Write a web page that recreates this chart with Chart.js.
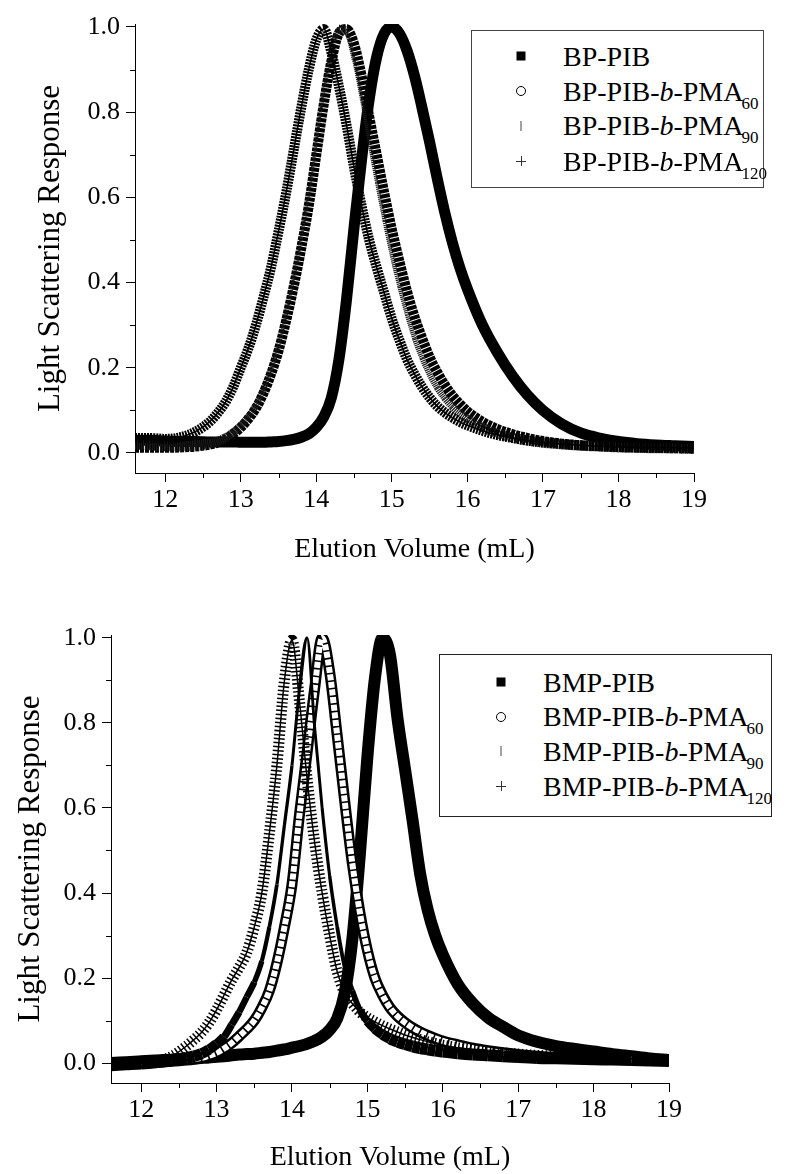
<!DOCTYPE html>
<html>
<head>
<meta charset="utf-8">
<script src="https://cdn.jsdelivr.net/npm/chart.js@4.4.0/dist/chart.umd.min.js"></script>
<style>
html,body{margin:0;padding:0;background:#fff;}
#wrap{position:relative;width:789px;height:1174px;overflow:hidden;font-family:"Liberation Serif","Times New Roman",serif;color:#000;}
#wrap canvas{position:absolute;left:0;}
.legend{position:absolute;box-sizing:border-box;background:#fff;}
.row{position:absolute;height:35px;line-height:35px;white-space:nowrap;font-size:28px;}
.row sub{font-size:17px;position:relative;top:8px;vertical-align:baseline;line-height:0;margin-left:-2px;}
.mk{position:absolute;width:14px;height:14px;}
</style>
</head>
<body>
<div id="wrap">
  <canvas id="chartTop" width="789" height="587" style="top:0;width:789px;height:587px"></canvas>
  <canvas id="chartBottom" width="789" height="587" style="top:587px;width:789px;height:587px"></canvas>
  <div class="legend" id="legendTop" style="left:471px;top:30px;width:293px;height:158px;border:1px solid #444;"></div>
  <div class="legend" id="legendBottom" style="left:439px;top:654px;width:333px;height:163px;border:1px solid #222;"></div>
</div>
<script>
// ---------- data ----------
const elutionVolume = [11.6,11.8,12.0,12.2,12.4, 12.6,12.7,12.8,12.9,13.0, 13.1,13.2,13.3,13.4,13.5, 13.6,13.7,13.8,13.9,14.0,
  14.1,14.2,14.3,14.4,14.5, 14.6,14.7,14.8,14.9,15.0, 15.1,15.2,15.3,15.4,15.5, 15.6,15.7,15.8,15.9,16.0,
  16.2,16.4,16.6,16.8,17.0, 17.25,17.5,17.75,18.0,18.25, 18.5,18.75,19.0];

// top panel (BP initiator)
const bpPIB = [0.030,0.030,0.028,0.027,0.027, 0.026,0.026,0.026,0.026,0.025, 0.025,0.025,0.025,0.026,0.027, 0.029,0.032,0.037,0.045,0.060,
  0.085,0.130,0.220,0.360,0.530, 0.690,0.830,0.930,0.985,1.000, 0.985,0.945,0.885,0.810,0.730, 0.645,0.565,0.495,0.435,0.385,
  0.300,0.235,0.180,0.135,0.100, 0.068,0.047,0.035,0.027,0.022, 0.019,0.017,0.015];
const bpPMA60 = [0.012,0.012,0.012,0.013,0.015, 0.020,0.025,0.033,0.045,0.060, 0.080,0.105,0.140,0.185,0.240, 0.310,0.390,0.480,0.580,0.700,
  0.820,0.920,0.985,0.995,0.960, 0.885,0.790,0.700,0.610,0.525, 0.450,0.380,0.320,0.270,0.225, 0.190,0.160,0.135,0.115,0.098,
  0.073,0.056,0.044,0.035,0.028, 0.022,0.018,0.016,0.014,0.013, 0.012,0.011,0.010];
const bpPMA90 = [0.020,0.018,0.016,0.016,0.018, 0.023,0.028,0.036,0.048,0.064, 0.085,0.112,0.148,0.195,0.253, 0.325,0.410,0.505,0.610,0.730,
  0.850,0.945,0.995,0.985,0.920, 0.830,0.730,0.635,0.545,0.462, 0.390,0.325,0.268,0.222,0.184, 0.153,0.129,0.109,0.093,0.080,
  0.060,0.046,0.036,0.029,0.024, 0.020,0.017,0.015,0.013,0.012, 0.011,0.011,0.010];
const bpPMA120 = [0.035,0.035,0.033,0.037,0.050, 0.075,0.095,0.120,0.155,0.200, 0.245,0.300,0.365,0.435,0.520, 0.610,0.710,0.810,0.900,0.970,
  0.995,0.940,0.860,0.770,0.670, 0.580,0.500,0.435,0.375,0.315, 0.265,0.220,0.185,0.155,0.130, 0.110,0.095,0.083,0.073,0.065,
  0.052,0.042,0.035,0.029,0.025, 0.021,0.018,0.016,0.014,0.013, 0.012,0.012,0.011];

// bottom panel (BMP initiator)
const bmpPIB = [0.000,0.002,0.004,0.006,0.008, 0.010,0.011,0.012,0.013,0.015, 0.016,0.018,0.020,0.021,0.022, 0.024,0.026,0.029,0.032,0.036,
  0.040,0.045,0.052,0.062,0.078, 0.105,0.165,0.290,0.490,0.720, 0.905,1.000,0.960,0.810,0.690, 0.570,0.445,0.360,0.300,0.255,
  0.185,0.140,0.107,0.085,0.065, 0.050,0.040,0.033,0.027,0.021, 0.016,0.011,0.007];
const bmpPMA60 = [-0.002,-0.001,0.000,0.002,0.004, 0.007,0.009,0.012,0.017,0.024, 0.034,0.047,0.063,0.080,0.100, 0.130,0.170,0.235,0.320,0.420,
  0.585,0.730,0.880,1.000,0.920, 0.770,0.615,0.470,0.355,0.265, 0.200,0.160,0.130,0.110,0.095, 0.083,0.073,0.065,0.058,0.052,
  0.043,0.035,0.029,0.024,0.020, 0.016,0.013,0.011,0.010,0.009, 0.008,0.007,0.006];
const bmpPMA90 = [-0.005,-0.003,-0.001,0.002,0.006, 0.012,0.016,0.022,0.032,0.045, 0.062,0.090,0.120,0.155,0.190, 0.240,0.320,0.420,0.560,0.700,
  0.880,1.000,0.790,0.600,0.440, 0.320,0.225,0.170,0.125,0.098, 0.080,0.067,0.057,0.050,0.044, 0.039,0.035,0.032,0.029,0.027,
  0.023,0.020,0.018,0.016,0.014, 0.012,0.011,0.010,0.009,0.008, 0.007,0.006,0.005];
const bmpPMA120 = [-0.004,-0.002,0.000,0.004,0.015, 0.040,0.055,0.072,0.095,0.125, 0.160,0.195,0.225,0.260,0.320, 0.400,0.540,0.700,0.900,0.995,
  0.850,0.670,0.520,0.400,0.300, 0.215,0.165,0.140,0.120,0.107, 0.097,0.088,0.080,0.073,0.066, 0.060,0.055,0.050,0.046,0.042,
  0.036,0.031,0.027,0.024,0.021, 0.018,0.016,0.014,0.012,0.011, 0.010,0.009,0.008];

const topNames = ['BP-PIB', 'BP-PIB-<i>b</i>-PMA<sub>60</sub>', 'BP-PIB-<i>b</i>-PMA<sub>90</sub>', 'BP-PIB-<i>b</i>-PMA<sub>120</sub>'];
const bottomNames = ['BMP-PIB', 'BMP-PIB-<i>b</i>-PMA<sub>60</sub>', 'BMP-PIB-<i>b</i>-PMA<sub>90</sub>', 'BMP-PIB-<i>b</i>-PMA<sub>120</sub>'];
const markerKinds = ['square', 'circle', 'vbar', 'plus'];

const xMajorTicks = [12, 13, 14, 15, 16, 17, 18, 19];
const xMinorTicks = [12.5, 13.5, 14.5, 15.5, 16.5, 17.5, 18.5];
const yMajorTicks = [0.0, 0.2, 0.4, 0.6, 0.8, 1.0];
const yMinorTicks = [0.1, 0.3, 0.5, 0.7, 0.9];
const xTitle = 'Elution Volume (mL)';
const yTitle = 'Light Scattering Response';

// ---------- helpers ----------
const pts = ys => elutionVolume.map((x, i) => ({x: x, y: ys[i]}));
const FONT = 'Liberation Serif';

// width of a band painted by a vertical-dash marker: thick where the curve is flat, thin where steep
const vbarWidth = (h, base) => c => {
  const dx = c.p1.x - c.p0.x, dy = c.p1.y - c.p0.y;
  const len = Math.hypot(dx, dy) || 1;
  return base + h * Math.abs(dx) / len;
};

const minorTickPlugin = {
  id: 'minorTicks',
  afterDraw(chart) {
    const {ctx} = chart; const x = chart.scales.x, y = chart.scales.y;
    ctx.save(); ctx.strokeStyle = '#000'; ctx.lineWidth = 1; ctx.beginPath();
    xMinorTicks.forEach(v => { const p = Math.round(x.getPixelForValue(v)) + 0.5; ctx.moveTo(p, x.top); ctx.lineTo(p, x.top + 5); });
    yMinorTicks.forEach(v => { const p = Math.round(y.getPixelForValue(v)) + 0.5; ctx.moveTo(y.right - 5, p); ctx.lineTo(y.right, p); });
    ctx.stroke(); ctx.restore();
  }
};

function makeChart(id, datasets, L) {
  return new Chart(document.getElementById(id), {
    type: 'scatter',
    data: {datasets: datasets},
    plugins: [minorTickPlugin],
    options: {
      responsive: false, animation: false, devicePixelRatio: 1,
      layout: {padding: {left: 0, right: L.padRight, top: L.padTop, bottom: 0}},
      plugins: {legend: {display: false}, tooltip: {enabled: false}},
      elements: {point: {radius: 0}, line: {cubicInterpolationMode: 'monotone', borderCapStyle: 'butt', borderJoinStyle: 'round'}},
      scales: {
        x: {
          type: 'linear', min: 11.6, max: 19.0,
          afterFit: s => { s.height = L.xHeight; },
          afterBuildTicks: s => { s.ticks = xMajorTicks.map(v => ({value: v})); },
          grid: {display: true, drawOnChartArea: false, drawTicks: true, tickLength: 9, color: '#000', lineWidth: 1},
          border: {display: true, color: '#000', width: 1},
          ticks: {color: '#000', font: {family: FONT, size: 26}, padding: 3, maxRotation: 0, autoSkip: false, callback: v => String(v)},
          title: {display: true, text: xTitle, color: '#000', font: {family: FONT, size: 28}, padding: {top: 0, bottom: L.xTitlePad}}
        },
        y: {
          type: 'linear', min: -0.047, max: 1.007,
          afterFit: s => { s.width = L.yWidth; },
          afterBuildTicks: s => { s.ticks = yMajorTicks.map(v => ({value: v})); },
          grid: {display: true, drawOnChartArea: false, drawTicks: true, tickLength: 9, color: '#000', lineWidth: 1},
          border: {display: true, color: '#000', width: 1},
          ticks: {color: '#000', font: {family: FONT, size: 26}, padding: 6, autoSkip: false, callback: v => v.toFixed(1)},
          title: {display: true, text: yTitle, color: '#000', font: {family: FONT, size: 31}, padding: {top: L.yTitlePad, bottom: 0}}
        }
      }
    }
  });
}

// ---------- top chart ----------
makeChart('chartTop', [
  {label: 'BP-PIB-b-PMA120 core', data: pts(bpPMA120), showLine: true, borderColor: '#000', borderWidth: 1.5, order: 0},
  {label: 'BP-PIB-b-PMA120', data: pts(bpPMA120), showLine: true, borderColor: '#000', borderWidth: 10, borderDash: [2, 1], order: 1},
  {label: 'BP-PIB-b-PMA90', data: pts(bpPMA90), showLine: true, borderColor: '#1a1a1a', borderDash: [1.2, 0.8], order: 2,
    borderWidth: 8, segment: {borderWidth: vbarWidth(8, 2)}},
  {label: 'BP-PIB-b-PMA60', data: pts(bpPMA60), showLine: true, borderColor: '#000', borderWidth: 10, borderDash: [4, 1], order: 3},
  {label: 'BP-PIB', data: pts(bpPIB), showLine: true, borderColor: '#000', borderWidth: 11, order: 4}
], {padRight: 95, padTop: 24, xHeight: 114, yWidth: 135, xTitlePad: 21, yTitlePad: 32});

// ---------- bottom chart ----------
makeChart('chartBottom', [
  {label: 'BMP-PIB-b-PMA120 core', data: pts(bmpPMA120), showLine: true, borderColor: '#000', borderWidth: 1.5, order: 0},
  {label: 'BMP-PIB-b-PMA120', data: pts(bmpPMA120), showLine: true, borderColor: '#000', borderWidth: 11, borderDash: [1.5, 2.5], order: 1},
  {label: 'BMP-PIB-b-PMA90', data: pts(bmpPMA90), showLine: true, borderColor: '#000', order: 2,
    borderWidth: 2.5, segment: {borderWidth: vbarWidth(10, 2)}},
  {label: 'BMP-PIB-b-PMA60 inner', data: pts(bmpPMA60), showLine: true, borderColor: '#fff', borderWidth: 6, borderDash: [6, 1.6], order: 3},
  {label: 'BMP-PIB-b-PMA60', data: pts(bmpPMA60), showLine: true, borderColor: '#000', borderWidth: 11, order: 4},
  {label: 'BMP-PIB', data: pts(bmpPIB), showLine: true, borderColor: '#000', borderWidth: 12, order: 5}
], {padRight: 120, padTop: 48, xHeight: 91, yWidth: 111, xTitlePad: 0, yTitlePad: 12});

// ---------- HTML legends (rich text: italic b, subscripts) ----------
function markerSvg(kind) {
  let s = '';
  if (kind === 'square') s = '<rect x="2.5" y="2.5" width="9" height="9" fill="#000"/>';
  if (kind === 'circle') s = '<circle cx="7" cy="7" r="4.5" fill="none" stroke="#000" stroke-width="1"/>';
  if (kind === 'vbar') s = '<line x1="7" y1="2" x2="7" y2="12" stroke="#444" stroke-width="1"/>';
  if (kind === 'plus') s = '<line x1="2" y1="7.5" x2="12" y2="7.5" stroke="#333" stroke-width="1"/><line x1="7.5" y1="2" x2="7.5" y2="12" stroke="#333" stroke-width="1"/>';
  return '<svg width="14" height="14" viewBox="0 0 14 14">' + s + '</svg>';
}
function buildLegend(id, names, centers, markX, textX) {
  const el = document.getElementById(id);
  let html = '';
  names.forEach((n, i) => {
    html += '<div class="mk" style="left:' + (markX - 7) + 'px;top:' + (centers[i] - 7) + 'px">' + markerSvg(markerKinds[i]) + '</div>';
    html += '<div class="row" style="left:' + textX + 'px;top:' + (centers[i] - 17.5) + 'px">' + n + '</div>';
  });
  el.innerHTML = html;
}
buildLegend('legendTop', topNames, [25, 60, 94.5, 130], 49, 91);
buildLegend('legendBottom', bottomNames, [27, 61.5, 96, 131], 61, 103);
</script>
</body>
</html>
